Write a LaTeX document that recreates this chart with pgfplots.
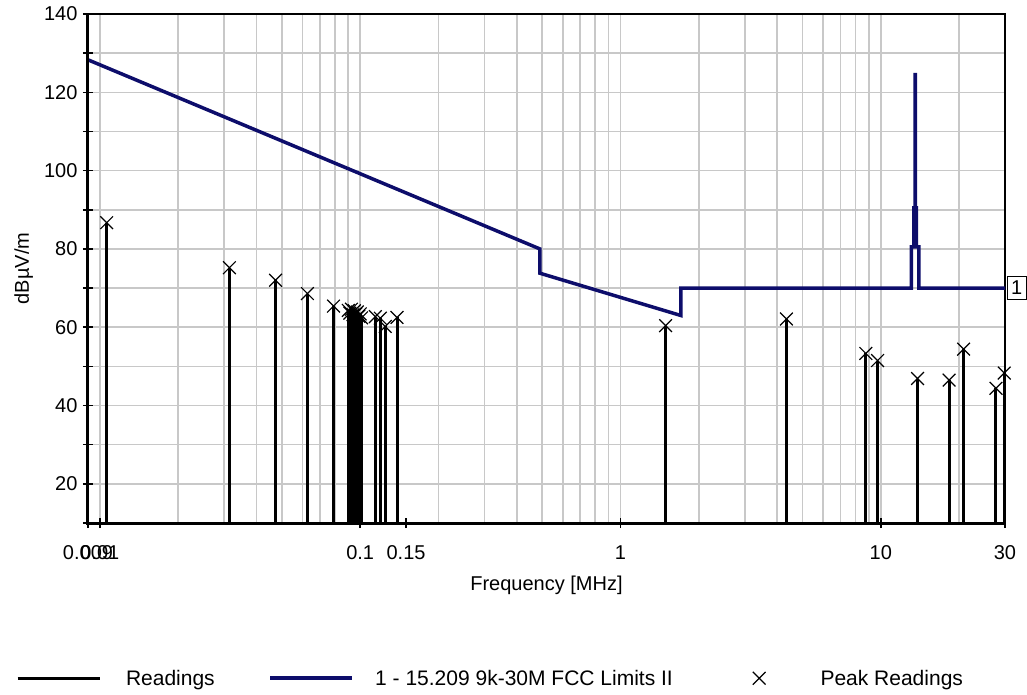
\documentclass[border=0pt]{standalone}
\usepackage{fontspec}
\setmainfont{Liberation Sans}
\usepackage{pgfplots}
\usepackage{pgfplotstable}
\pgfplotsset{compat=1.18}
\definecolor{LimitBlue}{HTML}{0D0D6B}
\definecolor{GridGray}{HTML}{C8C8C8}

% readings: frequency [MHz], level [dBuV/m]
\pgfplotstableread{
f        level
0.01062  86.7
0.03145  75.2
0.0473   72.0
0.0627   68.6
0.0790   65.4
0.0900   64.3
0.0912   63.6
0.0925   64.6
0.0938   63.2
0.0950   64.2
0.0962   63.4
0.0975   63.9
0.0988   62.8
0.1000   63.4
0.1012   62.4
0.1143   62.7
0.1195   62.3
0.1248   60.2
0.1385   62.5
1.49     60.4
4.34     62.1
8.76     53.3
9.72     51.5
13.84    46.9
18.3     46.5
20.8     54.4
27.7     44.4
29.8     48.3
}\readings

% FCC 15.209 limit, extrapolated to 3 m
\pgfplotstableread{
f       level
0.009   128.3
0.49    80.0
0.49    73.8
1.705   63.0
1.705   70.0
13.11   70.0
13.11   80.5
13.41   80.5
13.41   90.5
13.553  90.5
13.553  124.5
13.567  124.5
13.567  90.5
13.71   90.5
13.71   80.5
14.01   80.5
14.01   70.0
30      70.0
}\limitline

\begin{document}
\begin{tikzpicture}
\useasboundingbox (-88pt,-172pt) rectangle (939pt,523pt);
\begin{axis}[
  at={(0pt,0pt)}, anchor=south west,
  scale only axis, width=917pt, height=509pt,
  xmode=log, xmin=0.009, xmax=30, ymin=10, ymax=140,
  clip mode=individual,
  axis line style={black, line width=1.5pt},
  xtick pos=bottom, ytick pos=left,
  tick align=center, major tick length=10pt,
  tick style={black, line width=1.5pt},
  xtick={0.009,0.01,0.1,0.15,1,10,30},
  xticklabels={0.009,0.01,0.1,0.15,1,10,30},
  minor xtick={0.01,0.02,0.03,0.04,0.05,0.06,0.07,0.08,0.09,
               0.1,0.2,0.3,0.4,0.5,0.6,0.7,0.8,0.9,
               1,2,3,4,5,6,7,8,9,10,20},
  minor x tick style={draw=none},
  xmajorgrids=false, xminorgrids=true,
  ytick={10,20,...,140},
  yticklabels={,20,,40,,60,,80,,100,,120,,140},
  ymajorgrids=true,
  grid style={GridGray, line width=1.6pt},
  minor grid style={GridGray, line width=1.6pt},
  tick label style={font=\fontsize{20}{24}\selectfont},
  xticklabel style={yshift=-14pt},
  yticklabel style={xshift=-2pt},
  xlabel={Frequency [MHz]},
  ylabel={dBµV/m},
  label style={font=\fontsize{20}{24}\selectfont},
  xlabel style={at={(axis description cs:0.5,-0.122)}, anchor=center},
  ylabel style={at={(axis description cs:-0.07,0.5)}, anchor=center},
  legend columns=3,
  legend style={at={(axis description cs:-0.0785,-0.305)}, anchor=west,
    draw=none, fill=none, inner sep=0pt, outer sep=0pt,
    font=\fontsize{21}{25}\selectfont,
    /tikz/column 1/.style={column sep=23pt},
    /tikz/column 2/.style={column sep=52pt},
    /tikz/column 3/.style={column sep=19pt},
    /tikz/column 4/.style={column sep=78pt},
    /tikz/column 5/.style={column sep=53pt}},
  after end axis/.code={
    \draw[black, line width=3pt] (rel axis cs:0,1) -- (rel axis cs:0,0) -- (rel axis cs:1,0);
    \node[draw=black, line width=1pt, anchor=west, inner sep=4pt,
          minimum height=23pt, font=\fontsize{20}{24}\selectfont]
      at (axis cs:30,70) [xshift=1.5pt] {1};
  },
]
\addplot[ycomb, black, line width=3pt,
  legend image code/.code={\draw[black, line width=3pt] (0pt,0pt) -- (82pt,0pt);}]
  table[x=f, y=level] {\readings};
\addlegendentry{Readings}
\addplot[LimitBlue, line width=3.5pt, line join=miter,
  legend image code/.code={\draw[LimitBlue, line width=3.5pt] (0pt,0pt) -- (82pt,0pt);}]
  table[x=f, y=level] {\limitline};
\addlegendentry{1 - 15.209 9k-30M FCC Limits II}
\addplot[only marks, mark=x, mark size=9pt, black, mark options={line width=1.2pt}]
  table[x=f, y=level] {\readings};
\addlegendentry{Peak Readings}
\end{axis}
\end{tikzpicture}
\end{document}
